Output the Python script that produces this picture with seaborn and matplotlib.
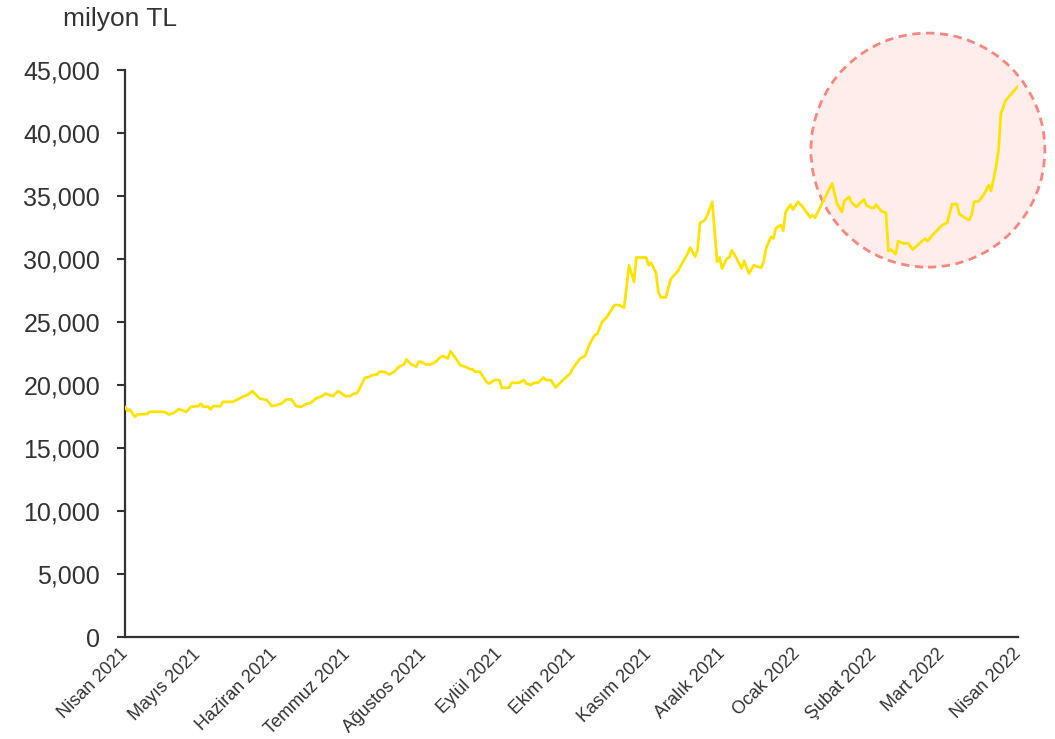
import matplotlib
matplotlib.use("Agg")
import matplotlib.pyplot as plt
from matplotlib.patches import Ellipse
from matplotlib.ticker import FuncFormatter
import numpy as np
import pandas as pd
import seaborn as sns

# Daily series: day offset from 1 April 2021 and level in million TL
day_offset = [
    0, 1, 2, 4, 5, 9, 10, 16, 18, 20, 22, 25, 27, 30, 31, 32, 34, 35, 36, 39,
    40, 44, 46, 48, 50, 52, 54, 55, 58, 60, 62, 64, 66, 68, 70, 72, 74, 76, 78, 80,
    82, 85, 87, 88, 90, 92, 93, 95, 98, 100, 101, 103, 104, 106, 108, 110, 112, 114, 115, 117,
    119, 120, 121, 123, 125, 127, 129, 130, 132, 133, 135, 137, 139, 141, 142, 143, 145, 146, 148, 149,
    151, 153, 154, 157, 158, 161, 163, 164, 166, 167, 169, 171, 172, 174, 176, 179, 182, 183, 185, 186,
    188, 190, 192, 193, 195, 197, 200, 202, 204, 206, 208, 209, 213, 214, 215, 217, 218, 219, 221, 223,
    226, 228, 230, 231, 233, 234, 235, 237, 238, 240, 242, 243, 244, 246, 247, 248, 250, 252, 253, 255,
    257, 260, 261, 262, 264, 265, 266, 268, 269, 270, 272, 273, 275, 277, 280, 281, 282, 285, 289, 291,
    293, 294, 296, 297, 299, 302, 303, 305, 306, 307, 309, 311, 312, 313, 315, 316, 318, 320, 322, 327,
    328, 330, 334, 336, 338, 340, 341, 343, 345, 346, 347, 349, 351, 353, 354, 356, 357, 358, 360, 365,
]
level = [
    18280, 17960, 18070, 17480, 17670, 17700, 17880, 17880, 17670, 17800,
    18100, 17880, 18280, 18330, 18520, 18280, 18280, 18070, 18330, 18330,
    18670, 18670, 18860, 19070, 19210, 19520, 19130, 18940, 18810, 18330,
    18410, 18550, 18860, 18860, 18330, 18280, 18490, 18600, 18940, 19070,
    19320, 19130, 19520, 19420, 19130, 19130, 19260, 19390, 20580, 20660,
    20790, 20850, 21060, 21060, 20850, 21060, 21460, 21640, 22040, 21640,
    21460, 21850, 21850, 21640, 21640, 21850, 22250, 22300, 22120, 22700,
    22170, 21590, 21460, 21270, 21250, 21060, 21060, 20790, 20180, 20130,
    20400, 20400, 19790, 19790, 20180, 20180, 20400, 20130, 20000, 20180,
    20210, 20610, 20400, 20400, 19820, 20400, 20930, 21320, 21850, 22120,
    22300, 23310, 23970, 24050, 25030, 25420, 26350, 26350, 26140, 29520,
    28200, 30130, 30130, 29520, 29710, 28910, 27400, 26960, 26960, 28400,
    29060, 29790, 30450, 30930, 30190, 30710, 32880, 33100, 33490, 34550,
    29790, 30130, 29260, 30050, 30130, 30710, 30050, 29260, 29870, 28860,
    29520, 29310, 29790, 30850, 31770, 31640, 32460, 32700, 32250, 33750,
    34330, 33940, 34550, 34150, 33310, 33490, 33280, 34470, 36010, 34410,
    33750, 34630, 34940, 34470, 34150, 34740, 34290, 34070, 34070, 34330,
    33830, 33670, 30660, 30770, 30400, 31430, 31250, 31250, 30770, 31640,
    31430, 31900, 32700, 32880, 34370, 34370, 33570, 33310, 33100, 33490,
    34550, 34600, 35130, 35870, 35420, 37330, 38650, 41560, 42620, 43730,
]

month_labels = [
    "Nisan 2021", "Mayıs 2021", "Haziran 2021", "Temmuz 2021", "Ağustos 2021",
    "Eylül 2021", "Ekim 2021", "Kasım 2021", "Aralık 2021", "Ocak 2022",
    "Şubat 2022", "Mart 2022", "Nisan 2022",
]
y_ticks = [0, 5000, 10000, 15000, 20000, 25000, 30000, 35000, 40000, 45000]

start = pd.Timestamp("2021-04-01")
df = pd.DataFrame({
    "tarih": start + pd.to_timedelta(day_offset, unit="D"),
    "deger": level,
})
month_starts = pd.date_range("2021-04-01", "2022-04-01", freq="MS")

sns.set_style("white")
plt.rcParams["font.family"] = ["Liberation Sans", "DejaVu Sans"]

ink = "#333333"
fig = plt.figure(figsize=(10.55, 7.39), dpi=100)
ax = fig.add_axes([0.1185, 0.138, 0.8465, 0.767])

# Highlight circle behind the series
ax.add_patch(Ellipse((0.899, 0.859), 0.262, 0.413, transform=ax.transAxes,
                     facecolor="#FFEDEC", edgecolor="#F7877F", linewidth=2,
                     linestyle=(0, (3, 2)), clip_on=False, zorder=1))

sns.lineplot(data=df, x="tarih", y="deger", color="#FFE300", linewidth=2.0,
             ax=ax, zorder=3)

ax.set_xlim(start, pd.Timestamp("2022-04-01"))
ax.set_ylim(0, 45000)
ax.set_yticks(y_ticks)
ax.yaxis.set_major_formatter(FuncFormatter(lambda v, p: f"{int(v):,}"))
ax.set_xticks(month_starts)
ax.set_xticklabels(month_labels, rotation=45, ha="right", va="center",
                   rotation_mode="anchor", fontsize=13, color=ink)
ax.set_xlabel("")
ax.set_ylabel("")

for side in ("top", "right"):
    ax.spines[side].set_visible(False)
for side in ("left", "bottom"):
    ax.spines[side].set_color(ink)
    ax.spines[side].set_linewidth(1.6)

ax.tick_params(axis="y", which="major", left=True, length=6, width=1.5,
               color=ink, labelsize=18, labelcolor=ink, pad=12)
ax.tick_params(axis="x", which="major", bottom=False, pad=7)

fig.text(0.0597, 0.965, "milyon TL", fontsize=19, color=ink, va="baseline",
         ha="left")

fig.savefig("out.png", dpi=100, facecolor="white")
